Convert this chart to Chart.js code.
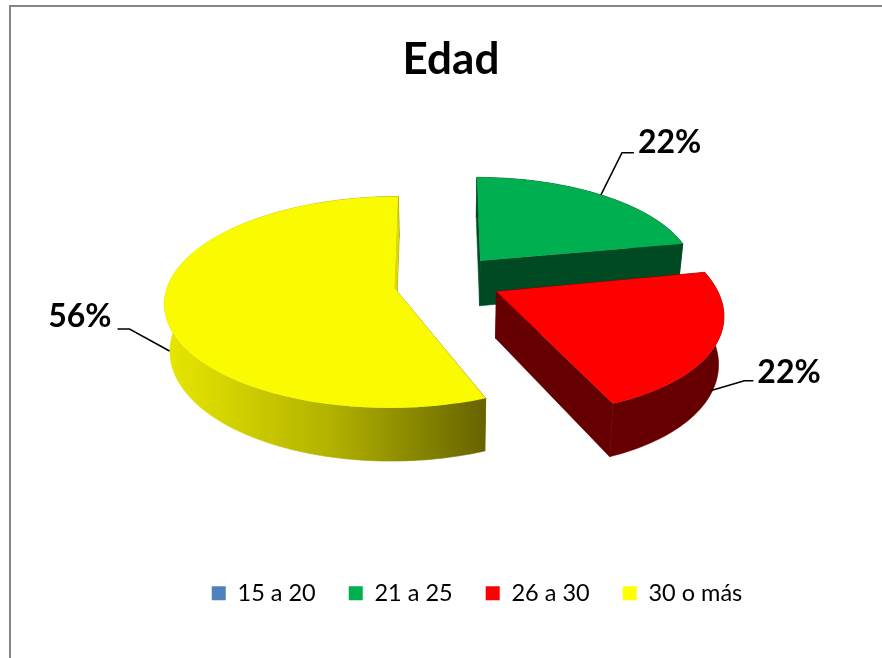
<!DOCTYPE html>
<html>
<head>
<meta charset="utf-8">
<title>Edad</title>
<script src="https://cdn.jsdelivr.net/npm/chart.js@4"></script>
<style>
  html, body { margin: 0; padding: 0; background: #fff; overflow: hidden; }
  #frame { position: absolute; left: 9px; top: 5px; width: 900px; height: 700px;
           border-left: 2px solid #868686; border-top: 2px solid #868686; }
  #edadChart { position: absolute; left: 0; top: 0; }
</style>
</head>
<body>
<div id="frame"></div>
<canvas id="edadChart" width="882" height="658"></canvas>
<script>
// Data
const categories = ["15 a 20", "21 a 25", "26 a 30", "30 o más"];
const edadValues = [0, 22, 22, 56];

// Colours
const legendColors = ["#4f81bd", "#00b050", "#ff0000", "#ffff00"];
const faceColors = ["#4f81bd", "#00b050", "#ff0000", "#fafa00"];
const sideColors = ["#2a4a70", "#004a23", "#660000", null];

// Fake 3D look, the arcs come from the chart and get projected here
const tilt = 0.447;
const perspective = 0.13;
const shrink = 0.02;
const thickness = 46;
const pieShift = 6;
const pieLift = -36;
const sliceNudge = [[0, 0], [2, -8.5], [5, -5.5], [-3, -2]];
// per slice: x scale, y scale, x shear
const sliceShape = [[1, 1, 0], [0.94, 0.95, 0], [0.95, 1, 0.07], [0.985, 1, 0.01]];
const drawOrder = [1, 3, 2, 0];

// Leader lines: elbow and end relative to the slice edge, text relative to the end
const leaderHeight = [0, 0, 0.9, 0.9];
const leaders = [
  null,
  { elbow: [21, -42], end: [33, -42], text: [4, -10], align: "left" },
  { elbow: [34, -10], end: [43, -10], text: [4, -8], align: "left" },
  { elbow: [-40, -22], end: [-52, -22], text: [-6, -12], align: "right" }
];

function projector(chart, arc, i) {
  const R = arc.outerRadius;
  const mid = (arc.startAngle + arc.endAngle) / 2;
  const off = arc.options.offset || 0;
  const shape = sliceShape[i];
  const u0 = (off * Math.cos(mid)) / R;
  const v0 = (off * Math.sin(mid)) / R;
  return function (angle, rho, h) {
    const du = rho * Math.cos(angle);
    const dv = rho * Math.sin(angle);
    const u = u0 + du * shape[0] + dv * shape[2];
    const v = v0 + dv * shape[1];
    const s = 1 / (1 - perspective * v);
    return {
      x: arc.x + pieShift + u * R * s * (1 - shrink * h) + sliceNudge[i][0],
      y: arc.y + pieLift + R * tilt * v * s + thickness * h * s + sliceNudge[i][1]
    };
  };
}

function tracePoints(ctx, pts) {
  ctx.beginPath();
  pts.forEach((p, n) => (n ? ctx.lineTo(p.x, p.y) : ctx.moveTo(p.x, p.y)));
  ctx.closePath();
}

function arcPoints(proj, a0, a1, h) {
  const steps = Math.max(8, Math.ceil((a1 - a0) * 40));
  const pts = [];
  for (let n = 0; n <= steps; n++) {
    pts.push(proj(a0 + ((a1 - a0) * n) / steps, 1, h));
  }
  return pts;
}

const pie3d = {
  id: "pie3d",
  afterLayout(chart) {
    // title and legend do not sit on the canvas centre in the original
    chart.titleBlock.left += 10;
    chart.titleBlock.right += 10;
    chart.legend.left += 36;
    chart.legend.right += 36;
  },
  beforeDatasetDraw(chart, args) {
    const ctx = chart.ctx;
    const arcs = args.meta.data;
    drawOrder.forEach((i) => {
      const arc = arcs[i];
      if (!arc || arc.circumference === 0) return;
      const proj = projector(chart, arc, i);
      const a0 = arc.startAngle;
      const a1 = arc.endAngle;

      // walls, stroked too so no seam shows between them
      let side = sideColors[i];
      if (!side) {
        side = ctx.createLinearGradient(168, 0, 487, 0);
        side.addColorStop(0, "#e6e600");
        side.addColorStop(0.5, "#b3b300");
        side.addColorStop(1, "#666300");
      }
      ctx.save();
      ctx.fillStyle = side;
      ctx.strokeStyle = side;
      ctx.lineWidth = 0.6;
      [a0, a1].forEach((a) => {
        tracePoints(ctx, [proj(a, 0, 0), proj(a, 1, 0), proj(a, 1, 1), proj(a, 0, 1)]);
        ctx.fill();
        ctx.stroke();
      });
      const top = arcPoints(proj, a0, a1, 0);
      const bottom = arcPoints(proj, a0, a1, 1).reverse();
      tracePoints(ctx, top.concat(bottom));
      ctx.fill();
      ctx.stroke();

      // cut wall on the yellow slice that shows at the back is flat coloured
      if (!sideColors[i]) {
        ctx.fillStyle = "#dcdc00";
        tracePoints(ctx, [proj(a1, 0, 0), proj(a1, 1, 0), proj(a1, 1, 1), proj(a1, 0, 1)]);
        ctx.fill();
      }

      // top face
      ctx.fillStyle = arc.options.backgroundColor;
      tracePoints(ctx, [proj(a0, 0, 0)].concat(top));
      ctx.fill();
      ctx.restore();
    });
    return false;
  },
  afterDatasetsDraw(chart) {
    const ctx = chart.ctx;
    const arcs = chart.getDatasetMeta(0).data;
    const total = edadValues.reduce((a, b) => a + b, 0);
    ctx.save();
    arcs.forEach((arc, i) => {
      const l = leaders[i];
      if (!l || arc.circumference === 0) return;
      const mid = (arc.startAngle + arc.endAngle) / 2;
      const p = projector(chart, arc, i)(mid, 1, leaderHeight[i]);
      ctx.strokeStyle = "#000";
      ctx.lineWidth = 1.5;
      ctx.beginPath();
      ctx.moveTo(p.x, p.y);
      ctx.lineTo(p.x + l.elbow[0], p.y + l.elbow[1]);
      ctx.lineTo(p.x + l.end[0], p.y + l.end[1]);
      ctx.stroke();
      ctx.fillStyle = "#000";
      ctx.font = "bold 32px Lato";
      ctx.textAlign = l.align;
      ctx.textBaseline = "middle";
      const pct = Math.round((edadValues[i] / total) * 100) + "%";
      ctx.fillText(pct, p.x + l.end[0] + l.text[0], p.y + l.end[1] + l.text[1]);
    });
    ctx.restore();
  }
};

new Chart(document.getElementById("edadChart"), {
  type: "pie",
  data: {
    labels: categories,
    datasets: [
      {
        data: edadValues,
        backgroundColor: faceColors,
        borderWidth: 0,
        offset: 50
      }
    ]
  },
  options: {
    responsive: false,
    animation: false,
    rotation: 0,
    radius: 230,
    layout: { padding: { top: 33, bottom: 43 } },
    events: [],
    plugins: {
      tooltip: { enabled: false },
      title: {
        display: true,
        text: "Edad",
        color: "#000",
        font: { family: "Lato", size: 44, weight: "bold" },
        padding: { top: 0, bottom: 10 }
      },
      legend: {
        position: "bottom",
        labels: {
          color: "#000",
          font: { family: "Lato", size: 23.5 },
          boxWidth: 14,
          boxHeight: 14,
          padding: 33,
          generateLabels(chart) {
            const items = Chart.overrides.pie.plugins.legend.labels.generateLabels(chart);
            items.forEach((item, i) => {
              item.fillStyle = legendColors[i];
              item.hidden = false;
            });
            return items;
          }
        }
      }
    }
  },
  plugins: [pie3d]
});
</script>
</body>
</html>
